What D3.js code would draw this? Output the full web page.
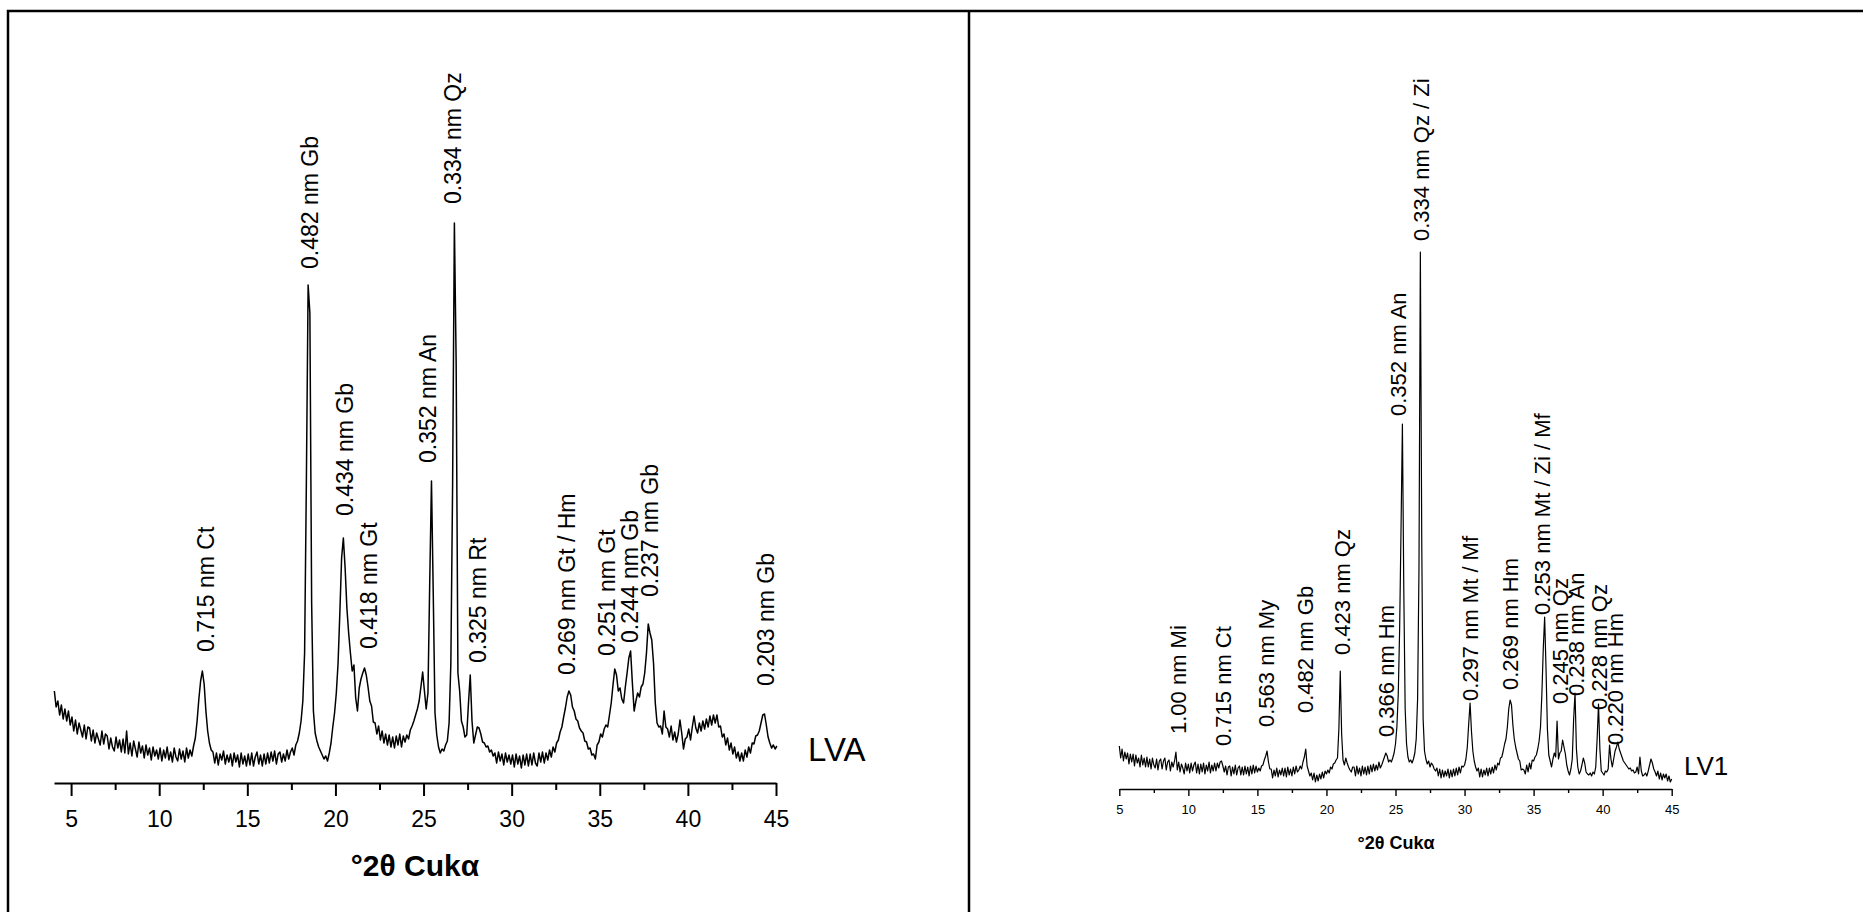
<!DOCTYPE html>
<html>
<head>
<meta charset="utf-8">
<script src="https://cdn.jsdelivr.net/npm/d3@7"></script>
<style>
  body { margin: 0; background: #fff; }
  svg { display: block; }
  text { font-family: "Liberation Sans", Arial, sans-serif; fill: #000; }
</style>
</head>
<body>
<svg id="chart" width="1863" height="912"></svg>
<script>
// XRD patterns, intensity (a.u.), one value per 0.1 deg 2theta step

// LVA pattern, first step at 4.05 deg
const lvaStart = 4.05;
const lvaStep = 0.1;
const lvaCounts = [
  92,76,82,68,78,64,74,62,72,58,      // 4.05
  66,52,63,49,60,53,46,58,44,56,      // 5.05
  55,42,53,40,50,44,38,52,39,49,      // 6.05
  47,34,45,36,32,46,35,43,31,44,      // 7.05
  30,52,29,40,27,42,34,26,41,30,      // 8.05
  37,25,38,28,35,23,36,27,33,24,      // 9.05
  35,22,33,25,36,23,31,21,35,26,      // 10.05
  22,34,24,32,21,35,25,33,27,37,      // 11.05
  45,62,84,102,112,99,72,52,40,33,    // 12.05
  31,20,30,18,29,23,32,19,28,21,      // 13.05
  29,17,30,21,28,16,30,19,27,17,      // 14.05
  29,18,30,17,26,31,19,28,17,29,      // 15.05
  19,30,20,31,22,32,19,29,31,21,      // 16.05
  29,22,33,24,31,35,28,38,42,50,      // 17.05
  62,82,130,300,498,470,180,72,50,42, // 18.05
  36,32,28,24,27,22,30,40,56,70,      // 19.05
  90,120,170,225,245,215,175,150,130,112, // 20.05
  118,85,72,95,104,110,115,108,96,82, // 21.05
  77,61,60,49,57,43,52,40,49,38,      // 22.05
  48,36,46,35,47,38,49,36,47,41,      // 23.05
  48,44,53,57,62,68,74,82,96,111,     // 24.05
  92,74,90,200,302,190,70,48,36,30,   // 25.05
  34,32,38,42,60,120,300,560,420,110, // 26.05
  92,62,56,46,48,80,108,62,40,48,     // 27.05
  56,55,49,41,40,36,37,31,33,27,      // 28.05
  30,20,31,22,29,18,30,21,28,19,      // 29.05
  28,16,29,19,27,15,28,18,29,17,      // 30.05
  29,18,30,20,17,30,21,31,20,30,      // 31.05
  23,33,26,36,31,40,43,51,56,66,      // 32.05
  75,86,92,88,76,72,64,62,55,52,      // 33.05
  50,42,41,34,35,28,29,24,38,41,      // 34.05
  49,46,54,58,56,68,80,98,114,108,    // 35.05
  92,95,84,80,96,110,125,132,100,72,  // 36.05
  82,90,86,96,99,110,130,159,150,143, // 37.05
  120,80,60,56,57,49,72,56,54,46,     // 38.05
  57,43,51,41,49,63,50,34,44,46,      // 39.05
  54,43,56,67,55,50,60,52,62,54,      // 40.05
  64,56,67,58,68,60,68,56,57,46,      // 41.05
  49,38,45,33,40,29,36,25,31,22,      // 42.05
  30,22,33,26,36,30,40,39,47,48,      // 43.05
  52,60,68,69,58,46,40,35,38,34,      // 44.05
  37                                  // 45.05
];
const lvaLabelText = ['0.715 nm Ct', '0.482 nm Gb', '0.434 nm Gb', '0.418 nm Gt', '0.352 nm An',
  '0.334 nm Qz', '0.325 nm Rt', '0.269 nm Gt / Hm', '0.251 nm Gt', '0.244 nm Gb', '0.237 nm Gb', '0.203 nm Gb'];
const lvaLabelTheta = [12.63, 18.56, 20.52, 21.92, 25.27, 26.69, 28.08, 33.16, 35.42, 36.73, 37.86, 44.43];
const lvaLabelLevel = [131, 514, 267, 134, 320, 579, 120, 108, 127, 140, 186, 97];

// LV1 pattern, first step at 5.0 deg
const lv1Start = 5.0;
const lv1Step = 0.1;
const lv1Counts = [
  43,31,40,28,37,30,36,25,35,27,      // 5.0
  35,23,34,26,31,22,34,24,31,22,      // 6.0
  32,22,30,20,31,24,21,30,19,28,      // 7.0
  30,20,28,31,19,27,29,18,27,22,      // 8.0
  28,37,19,27,17,25,21,15,26,18,      // 9.0
  25,16,26,18,24,27,16,25,15,25,      // 10.0
  17,26,15,24,18,27,16,24,18,26,      // 11.0
  18,26,21,27,28,23,17,23,14,22,      // 12.0
  23,13,22,15,24,14,21,23,14,22,      // 13.0
  14,23,15,22,13,23,15,24,16,23,      // 14.0
  17,21,18,23,24,29,33,38,27,20,      // 15.0
  20,11,19,13,21,12,19,14,21,13,      // 16.0
  21,12,22,14,20,13,22,15,23,17,      // 17.0
  19,23,20,27,32,40,23,18,13,16,      // 18.0
  9,16,7,14,8,15,10,17,11,18,         // 19.0
  15,19,16,22,20,25,26,29,31,60,      // 20.0
  118,55,29,24,31,26,22,19,17,22,     // 21.0
  22,13,23,15,21,13,23,15,22,14,      // 22.0
  23,15,24,17,25,18,24,19,27,21,      // 23.0
  24,28,32,36,33,27,29,27,31,36,      // 24.0
  45,62,95,160,260,365,200,80,45,32,  // 25.0
  27,29,26,30,36,50,90,220,537,250,   // 26.0
  70,38,30,25,28,22,26,24,20,18,      // 27.0
  21,13,20,11,19,12,18,13,20,11,      // 28.0
  19,12,20,13,21,14,22,16,23,22,      // 29.0
  24,30,42,65,86,58,38,28,22,18,      // 30.0
  21,12,20,12,19,14,21,13,21,15,      // 31.0
  22,16,24,19,26,24,31,32,38,45,      // 32.0
  50,62,80,89,84,64,50,42,36,30,      // 33.0
  28,19,20,19,15,24,17,26,20,29,      // 34.0
  28,32,34,40,48,62,95,140,172,120,   // 35.0
  60,34,28,22,30,36,32,68,30,36,      // 36.0
  38,49,42,35,24,18,14,20,30,70,      // 37.0
  96,40,22,15,18,24,31,26,17,15,      // 38.0
  14,16,13,17,15,22,50,85,40,18,      // 39.0
  16,14,18,17,20,44,30,22,30,38,      // 40.0
  42,47,40,36,32,28,26,24,22,20,      // 41.0
  21,18,19,16,17,22,15,32,18,13,      // 42.0
  14,16,13,18,24,30,26,20,17,13,      // 43.0
  18,10,16,9,15,11,15,8,13,7,         // 44.0
  10                                  // 45.0
];
const lv1LabelText = ['1.00 nm Mi', '0.715 nm Ct', '0.563 nm My', '0.482 nm Gb', '0.423 nm Qz',
  '0.366 nm Hm', '0.352 nm An', '0.334 nm Qz / Zi', '0.297 nm Mt / Mf', '0.269 nm Hm',
  '0.253 nm Mt / Zi / Mf', '0.245 nm Qz', '0.238 nm An', '0.228 nm Qz', '0.220 nm Hm'];
const lv1LabelTheta = [9.26, 12.52, 15.66, 18.45, 21.15, 24.31, 25.23, 26.9, 30.39, 33.29, 35.65, 36.9, 38.06, 39.74, 40.9];
const lv1LabelLevel = [55, 43, 62, 76, 134, 52, 373, 548, 88, 99, 174, 85, 93, 79, 44];

// Axis ticks (deg 2theta)
const majorTicks = [5, 10, 15, 20, 25, 30, 35, 40, 45];
const minorTicks = [7.5, 12.5, 17.5, 22.5, 27.5, 32.5, 37.5, 42.5];
const axisTitle = '°2θ Cukα';

const FONT = '"Liberation Sans", Arial, sans-serif';
const svg = d3.select('#chart');

// frame lines
svg.append('path')
  .attr('d', 'M8,912V11H1863M969,11V912')
  .attr('fill', 'none')
  .attr('stroke', '#000')
  .attr('stroke-width', 2.5);

drawPanel({
  name: 'LVA',
  start: lvaStart, step: lvaStep, counts: lvaCounts,
  labelText: lvaLabelText, labelTheta: lvaLabelTheta, labelLevel: lvaLabelLevel,
  xDomain: [4.03, 45], xRange: [54, 776],
  axisY: 783, yTop: 183,
  lineWidth: 1.5, axisWidth: 2,
  majorSize: 13, minorSize: 7, tickPad: 15, tickFont: 23,
  labelFont: 23,
  title: { x: 415, y: 876, size: 30 },
  tag: { x: 808, y: 761, size: 33 }
});

drawPanel({
  name: 'LV1',
  start: lv1Start, step: lv1Step, counts: lv1Counts,
  labelText: lv1LabelText, labelTheta: lv1LabelTheta, labelLevel: lv1LabelLevel,
  xDomain: [5, 45], xRange: [1119.3, 1671.7],
  axisY: 789, yTop: 189,
  lineWidth: 1.2, axisWidth: 1.4,
  majorSize: 7, minorSize: 4, tickPad: 9, tickFont: 13,
  labelFont: 22,
  title: { x: 1396, y: 849, size: 18 },
  tag: { x: 1684, y: 775, size: 26 }
});

function drawPanel(cfg) {
  const x = d3.scaleLinear().domain(cfg.xDomain).range(cfg.xRange);
  const y = d3.scaleLinear().domain([0, 600]).range([cfg.axisY, cfg.yTop]);
  const g = svg.append('g').attr('class', 'panel-' + cfg.name);

  // pattern
  const line = d3.line()
    .x((d, i) => x(cfg.start + i * cfg.step))
    .y(d => y(d));
  g.append('path')
    .datum(cfg.counts)
    .attr('fill', 'none')
    .attr('stroke', '#000')
    .attr('stroke-width', cfg.lineWidth)
    .attr('stroke-linejoin', 'round')
    .attr('d', line);

  // x axis, major ticks
  const axis = g.append('g')
    .attr('transform', `translate(0,${cfg.axisY})`)
    .call(d3.axisBottom(x)
      .tickValues(majorTicks)
      .tickSize(cfg.majorSize)
      .tickSizeOuter(0)
      .tickPadding(cfg.tickPad)
      .tickFormat(d3.format('d')));
  axis.attr('font-family', FONT).attr('font-size', cfg.tickFont);
  axis.select('.domain').attr('stroke-width', cfg.axisWidth);
  axis.selectAll('.tick line').attr('stroke-width', cfg.axisWidth);

  // minor ticks
  const minor = g.append('g')
    .attr('transform', `translate(0,${cfg.axisY})`)
    .call(d3.axisBottom(x).tickValues(minorTicks).tickSize(cfg.minorSize).tickFormat(''));
  minor.select('.domain').remove();
  minor.selectAll('.tick line').attr('stroke-width', cfg.axisWidth);

  // peak labels
  g.selectAll('text.peak')
    .data(cfg.labelText)
    .enter()
    .append('text')
    .attr('class', 'peak')
    .attr('transform', (d, i) => `translate(${x(cfg.labelTheta[i])},${y(cfg.labelLevel[i])}) rotate(-90)`)
    .attr('dy', '0.35em')
    .attr('font-size', cfg.labelFont)
    .text(d => d);

  // axis title
  g.append('text')
    .attr('x', cfg.title.x)
    .attr('y', cfg.title.y)
    .attr('text-anchor', 'middle')
    .attr('font-weight', 'bold')
    .attr('font-size', cfg.title.size)
    .text(axisTitle);

  // sample name
  g.append('text')
    .attr('x', cfg.tag.x)
    .attr('y', cfg.tag.y)
    .attr('font-size', cfg.tag.size)
    .text(cfg.name);
}
</script>
</body>
</html>
